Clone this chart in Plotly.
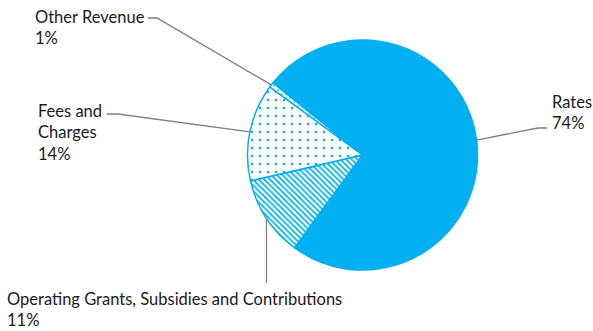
import math
import plotly.graph_objects as go

W, H = 593, 331

categories = ["Rates", "Operating Grants, Subsidies and Contributions", "Fees and Charges", "Other Revenue"]
values = [74.3, 11.3, 13.7, 0.7]
label_text = ["Rates", "Operating Grants, Subsidies and Contributions", "Fees and<br>Charges", "Other Revenue"]

BLUE = "#00B0F0"
ROT = -51.2

# pie placement in window pixels
cx, cy, r = 362.5, 155.0, 115.0


def px(x):
    return x / W


def py(y):
    return 1 - y / H


fig = go.Figure(go.Pie(
    labels=categories, values=values, sort=False, direction="clockwise",
    rotation=ROT, textinfo="none", hoverinfo="label+percent",
    domain=dict(x=[px(cx - r), px(cx + r)], y=[py(cy + r), py(cy - r)]),
    marker=dict(
        colors=[BLUE, "white", "white", "white"],
        line=dict(color=BLUE, width=1.5),
        pattern=dict(
            shape=["", "\\", ".", "."],
            fgcolor=BLUE, bgcolor="white",
            size=[8, 4, 8, 4],
            solidity=[0.2, 0.45, 0.08, 0.15],
            fillmode="replace",
        ),
    ),
))

# label boxes (text top-left pixel positions) and elbow points
label_pos = [
    (550, 90, [(547, 128), (538, 128)]),
    (5, 287, [(267, 283)]),
    (36, 99, [(107, 114), (118, 114)]),
    (33, 5, [(148, 18), (157, 18)]),
]

total = sum(values)
ang = ROT
shapes = []
annotations = []
for i, v in enumerate(values):
    span = 360 * v / total
    mid = math.radians(ang + span / 2)
    ang += span
    ex = cx + r * math.sin(mid)
    ey = cy - r * math.cos(mid)
    tx, ty, elbow = label_pos[i]
    pts = [(ex, ey)]
    if i == 1:
        pts.append((ex, elbow[0][1]))
    else:
        pts += elbow[::-1]
    path = "M " + " L ".join(f"{px(a):.5f},{py(b):.5f}" for a, b in pts)
    shapes.append(dict(type="path", xref="paper", yref="paper", path=path,
                       line=dict(color="#7f7f7f", width=1.3)))
    pct = round(v / total * 100)
    annotations.append(dict(
        x=px(tx), y=py(ty), xref="paper", yref="paper", xanchor="left", yanchor="top",
        text=f"{label_text[i]}<br>{pct}%", showarrow=False, align="left",
        font=dict(family="Lato", size=16.5, color="#1a1a1a"),
    ))

fig.update_layout(
    width=W, height=H, margin=dict(l=0, r=0, t=0, b=0),
    paper_bgcolor="white", plot_bgcolor="white", showlegend=False,
    shapes=shapes, annotations=annotations,
)

fig.write_html(
    "out.html",
    config={"displayModeBar": False},
    post_script="document.body.style.margin='0';document.body.style.overflow='hidden';",
)
